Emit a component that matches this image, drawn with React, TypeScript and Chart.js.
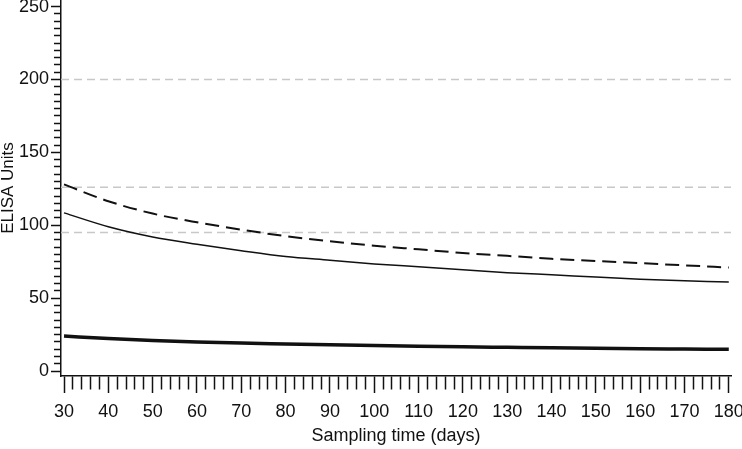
import React, { useEffect, useRef } from "react";
import { Chart, registerables } from "chart.js";

Chart.register(...registerables);

// ---- data ----
const days = [30, 40, 50, 60, 70, 80, 90, 100, 110, 120, 130, 140, 150, 160, 170, 180];
const upperCurve = [128, 116.5, 108, 102, 97, 92.5, 89, 86, 83.5, 81, 79, 77, 75.5, 74, 72.5, 71];
const middleCurve = [108.5, 99, 92, 87, 82.5, 78.5, 76, 73.5, 71.5, 69.5, 67.5, 66, 64.5, 63, 62, 61];
const lowerCurve = [24, 22.3, 21, 20, 19.2, 18.6, 18, 17.5, 17, 16.6, 16.3, 16, 15.6, 15.3, 15.1, 14.9];
const referenceLevels = [200, 126, 95];
const xRange = [29.32, 180.5];
const yRange = [-3.4, 254.5];
const xMajorStep = 10;
const xMinorStep = 2;
const yMajorStep = 50;
const yMinorStep = 5;
const xTitle = "Sampling time (days)";
const yTitle = "ELISA Units";

const FONT = "'Liberation Sans', Arial, Helvetica, sans-serif";
const INK = "#111";

function isMultiple(v: number, step: number) {
  return Math.abs(v / step - Math.round(v / step)) < 1e-6;
}

export default function App() {
  const canvasRef = useRef<HTMLCanvasElement | null>(null);

  useEffect(() => {
    const canvas = canvasRef.current;
    if (!canvas) return;

    const refSets = referenceLevels.map((lvl) => ({
      label: "ref " + lvl,
      data: [
        { x: xRange[0], y: lvl },
        { x: xRange[1], y: lvl },
      ],
      borderColor: "#c8c8c8",
      borderWidth: 1.5,
      borderDash: [8, 5],
      pointRadius: 0,
      fill: false,
      order: 10,
    }));

    const toPts = (vals: number[]) => days.map((d, i) => ({ x: d, y: vals[i] }));

    const chart = new Chart(canvas, {
      type: "line",
      data: {
        datasets: [
          ...refSets,
          {
            label: "upper",
            data: toPts(upperCurve),
            borderColor: INK,
            borderWidth: 2,
            borderDash: [14, 7],
            pointRadius: 0,
            cubicInterpolationMode: "monotone",
            fill: false,
            order: 1,
          },
          {
            label: "middle",
            data: toPts(middleCurve),
            borderColor: INK,
            borderWidth: 1.5,
            pointRadius: 0,
            cubicInterpolationMode: "monotone",
            fill: false,
            order: 1,
          },
          {
            label: "lower",
            data: toPts(lowerCurve),
            borderColor: INK,
            borderWidth: 3.5,
            pointRadius: 0,
            cubicInterpolationMode: "monotone",
            fill: false,
            order: 1,
          },
        ],
      },
      options: {
        animation: false,
        responsive: true,
        maintainAspectRatio: false,
        layout: { padding: { left: 0, right: 11, top: 0, bottom: 0 } },
        plugins: {
          legend: { display: false },
          tooltip: { enabled: false },
        },
        scales: {
          x: {
            type: "linear",
            min: xRange[0],
            max: xRange[1],
            border: { display: true, color: INK, width: 1.5 },
            grid: {
              drawOnChartArea: false,
              drawTicks: true,
              tickLength: 17,
              tickWidth: 1.5,
              tickColor: INK,
              tickBorderDash: (ctx: any) =>
                ctx.tick && isMultiple(ctx.tick.value, xMajorStep) ? [] : [13, 100],
              tickBorderDashOffset: 0,
            },
            ticks: {
              stepSize: xMinorStep,
              autoSkip: false,
              includeBounds: false,
              maxRotation: 0,
              minRotation: 0,
              padding: 8,
              color: INK,
              font: { family: FONT, size: 18 },
              callback: (v: any) => (isMultiple(Number(v), xMajorStep) ? String(v) : ""),
            },
            title: {
              display: true,
              text: xTitle,
              color: INK,
              font: { family: FONT, size: 18 },
              padding: { top: 0, bottom: 2 },
            },
            afterFit: (scale: any) => {
              scale.height = 73;
              scale.paddingLeft = 0;
              scale.paddingRight = 0;
            },
          },
          y: {
            type: "linear",
            min: yRange[0],
            max: yRange[1],
            border: { display: true, color: INK, width: 1.5 },
            grid: {
              drawOnChartArea: false,
              drawTicks: true,
              tickLength: 10,
              tickWidth: 1.5,
              tickColor: INK,
              tickBorderDash: (ctx: any) =>
                ctx.tick && isMultiple(ctx.tick.value, yMajorStep) ? [] : [7, 100],
              tickBorderDashOffset: (ctx: any) =>
                ctx.tick && isMultiple(ctx.tick.value, yMajorStep) ? 0 : 104,
            },
            ticks: {
              stepSize: yMinorStep,
              autoSkip: false,
              includeBounds: false,
              padding: 2,
              color: INK,
              font: { family: FONT, size: 18 },
              callback: (v: any) => (isMultiple(Number(v), yMajorStep) ? String(v) : ""),
            },
            title: {
              display: true,
              text: yTitle,
              color: INK,
              font: { family: FONT, size: 17, lineHeight: 1 },
              padding: { top: 0, bottom: 0 },
            },
            afterFit: (scale: any) => {
              scale.width = 61;
              scale.paddingTop = 0;
              scale.paddingBottom = 0;
            },
          },
        },
      } as any,
    });

    return () => chart.destroy();
  }, []);

  return (
    <div
      style={{
        position: "fixed",
        left: 0,
        top: 0,
        width: 742,
        height: 449,
        background: "#fff",
      }}
    >
      <canvas ref={canvasRef} />
    </div>
  );
}
